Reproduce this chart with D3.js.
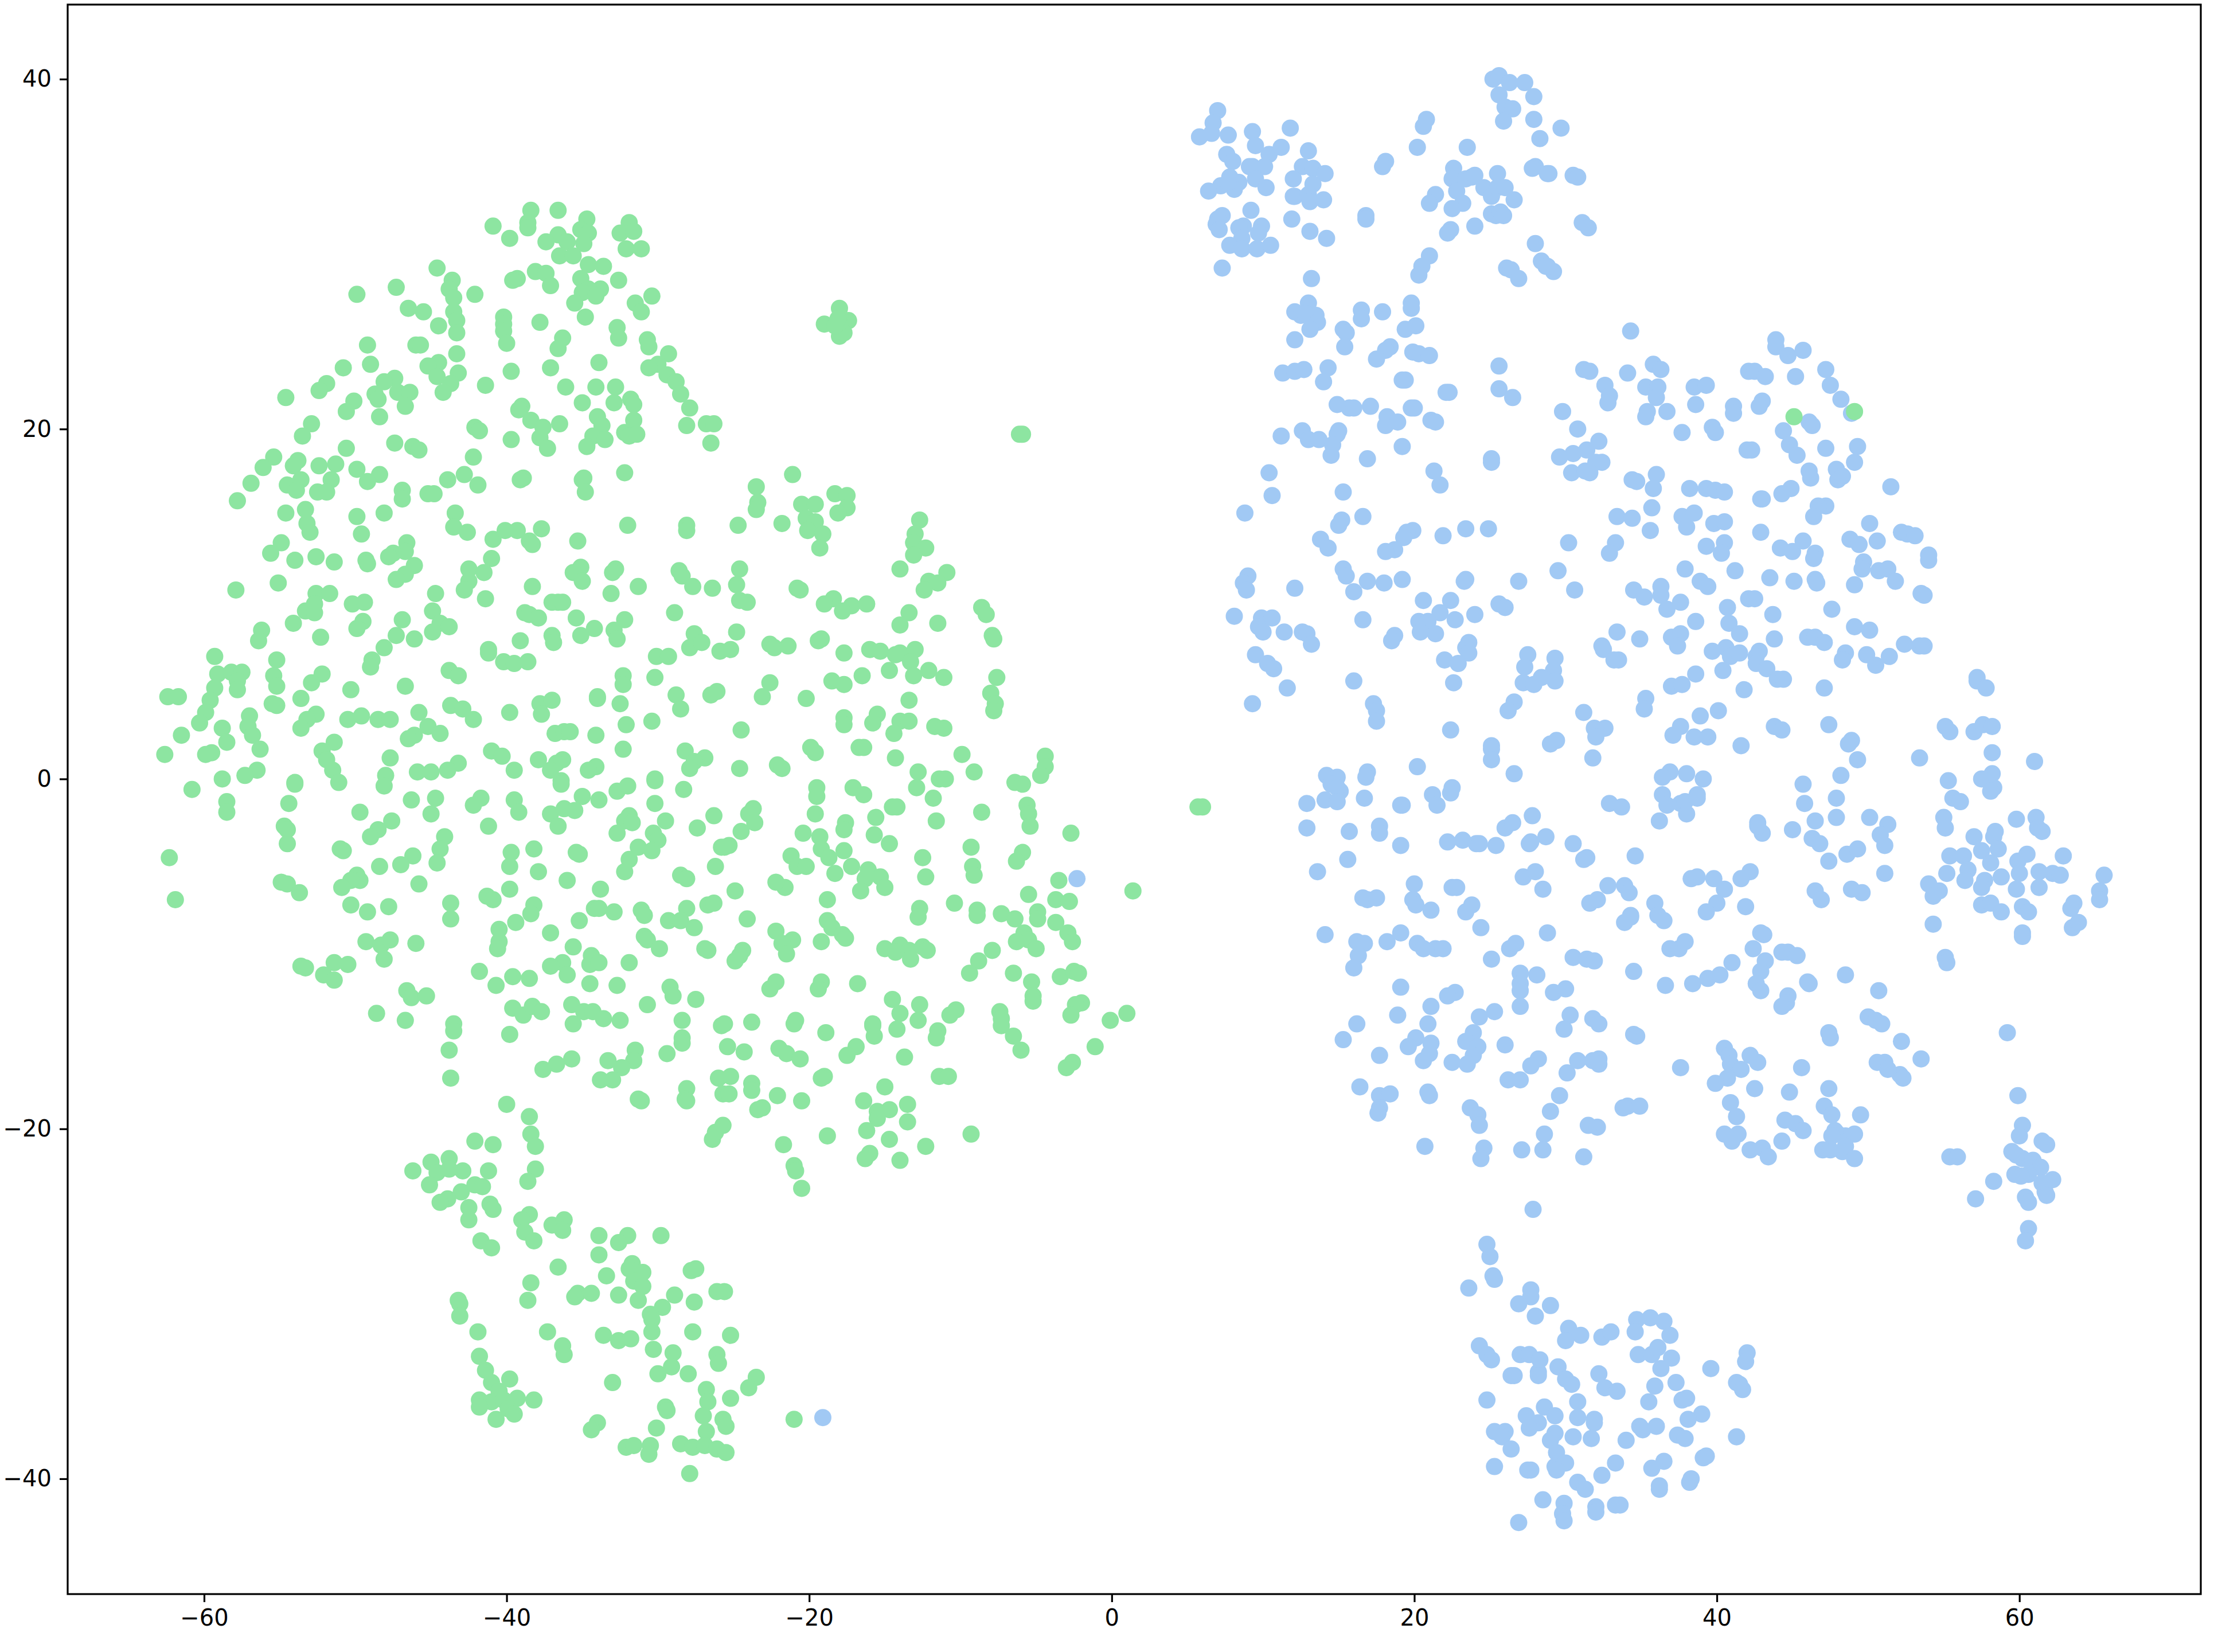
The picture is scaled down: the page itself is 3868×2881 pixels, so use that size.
<!DOCTYPE html>
<html>
<head>
<meta charset="utf-8">
<script src="https://cdn.jsdelivr.net/npm/d3@7"></script>
<style>
  html, body { margin: 0; padding: 0; background: #fff; }
  svg { display: block; }
  text { font-family: "DejaVu Sans", sans-serif; }
</style>
</head>
<body>
<svg id="chart" width="3868" height="2881"></svg>
<script>
// tick labels
const xTicks = [-60, -40, -20, 0, 20, 40, 60];
const yTicks = [-40, -20, 0, 20, 40];

// left cloud, upper part
const greenUpper = [
[-38.4,32.5],[-38.6,31.8],[-38.6,31.5],[-40.9,31.6],[-39.8,30.9],[-36.6,32.5],[-34.7,32.0],[-35.1,31.4],[-34.6,31.2],[-34.9,30.6],
[-36.6,31.1],[-37.4,30.7],[-36.0,30.7],[-36.5,29.9],[-35.6,29.9],[-31.9,31.8],[-32.5,31.2],[-31.6,31.3],[-32.1,30.3],[-31.1,30.3],
[-34.6,29.4],[-33.6,29.3],[-38.1,29.0],[-37.4,28.9],[-39.3,28.6],[-39.6,28.5],[-37.1,28.2],[-35.1,28.6],[-32.6,28.5],[-33.8,28.0],
[-34.6,28.0],[-35.0,27.8],[-34.1,27.6],[-35.5,27.2],[-34.8,26.4],[-30.4,27.6],[-31.5,27.2],[-31.1,26.7],[-44.6,29.2],[-43.6,28.5],
[-43.8,28.0],[-43.5,27.5],[-43.5,26.7],[-43.3,26.2],[-43.3,25.5],[-42.1,27.7],[-47.3,28.1],[-49.9,27.7],[-46.5,26.9],[-45.5,26.7],
[-44.5,25.9],[-40.2,26.4],[-40.2,26.0],[-40.2,25.6],[-40.0,24.9],[-37.8,26.1],[-36.3,25.2],[-36.6,24.6],[-32.7,25.8],[-32.6,25.2],
[-30.7,25.1],[-30.6,24.7],[-29.3,24.3],[-30.0,23.7],[-30.6,23.5],[-29.4,23.1],[-28.8,22.7],[-28.5,22.0],[-33.9,23.8],[-37.1,23.5],
[-36.1,22.4],[-34.1,22.4],[-32.8,22.4],[-31.8,21.7],[-31.6,21.4],[-32.9,21.5],[-35.0,21.5],[-39.7,23.3],[-41.4,22.5],[-43.3,24.3],
[-43.2,23.2],[-44.5,23.8],[-45.2,23.6],[-44.6,23.0],[-43.7,22.6],[-44.2,22.1],[-46.0,24.8],[-45.7,24.8],[-49.2,24.8],[-49.0,23.7],
[-50.8,23.5],[-47.4,22.9],[-48.1,22.7],[-47.2,22.1],[-46.4,22.1],[-46.7,21.3],[-48.7,22.0],[-48.5,21.7],[-48.4,20.7],[-50.1,21.6],
[-50.6,21.0],[-51.9,22.6],[-52.4,22.2],[-54.6,21.8],[-52.9,20.3],[-53.5,19.6],[-39.0,21.3],[-39.2,21.1],[-38.4,20.5],[-37.6,20.1],
[-36.5,20.3],[-37.8,19.5],[-37.3,18.9],[-39.7,19.4],[-42.1,20.1],[-41.8,19.9],[-31.6,20.5],[-34.0,20.7],[-33.7,20.2],[-34.3,19.6],
[-33.5,19.4],[-34.7,19.0],[-32.2,19.8],[-31.9,19.6],[-31.4,19.7],[-28.1,20.2],[-27.9,21.2],[-26.8,20.3],[-26.3,20.3],[-26.5,19.2],
[-47.4,19.2],[-46.2,19.0],[-45.8,18.8],[-50.6,18.9],[-42.2,18.4],[-55.4,18.4],[-53.8,18.2],[-54.1,17.9],[-56.1,17.8],[-52.4,17.9],
[-51.3,18.0],[-49.9,17.7],[-48.4,17.4],[-49.2,17.0],[-42.8,17.4],[-43.9,17.1],[-41.9,16.8],[-38.9,17.2],[-39.1,17.1],[-34.9,17.2],
[-35.0,17.1],[-34.8,16.4],[-32.2,17.5],[-56.9,16.9],[-53.6,17.1],[-54.5,16.8],[-53.9,16.5],[-51.6,17.1],[-52.5,16.4],[-51.9,16.4],
[-46.9,16.5],[-46.9,16.0],[-45.2,16.3],[-44.8,16.3],[-57.8,15.9],[-54.6,15.2],[-53.3,15.4],[-53.2,14.6],[-53.0,14.1],[-49.9,15.0],
[-48.1,15.2],[-49.6,14.0],[-43.4,15.2],[-43.5,14.4],[-42.6,14.1],[-40.9,13.7],[-40.1,14.2],[-39.3,14.2],[-37.7,14.3],[-38.5,13.6],
[-38.3,13.4],[-35.3,13.6],[-32.0,14.5],[-28.1,14.5],[-28.1,14.2],[-54.9,13.5],[-55.6,12.9],[-54.0,12.5],[-52.6,12.7],[-51.4,12.4],
[-49.3,12.5],[-49.2,12.3],[-46.6,13.5],[-46.7,13.0],[-47.5,12.9],[-47.8,12.7],[-46.1,12.2],[-46.7,11.7],[-47.3,11.4],[-41.0,12.6],
[-42.5,12.0],[-41.5,11.8],[-42.5,11.3],[-42.8,10.8],[-55.1,11.2],[-57.9,10.8],[-35.1,12.1],[-35.6,11.8],[-35.0,11.3],[-32.8,12.0],
[-33.0,11.8],[-38.3,11.0],[-33.1,10.6],[-31.3,11.0],[-28.6,11.9],[-28.4,11.6],[-27.7,11.0],[-26.4,10.9],[-52.6,10.6],[-51.7,10.6],
[-52.7,10.0],[-53.3,9.6],[-52.7,9.5],[-50.2,10.0],[-49.4,10.1],[-44.7,10.6],[-41.4,10.3],[-36.6,10.1],[-37.0,10.1],[-36.3,10.1],
[-38.8,9.5],[-38.5,9.4],[-37.9,9.2],[-35.4,9.2],[-28.9,9.5],[-44.9,9.6],[-46.9,9.1],[-49.5,9.0],[-49.9,8.6],[-44.4,8.9],
[-43.8,8.7],[-44.9,8.4],[-54.1,8.9],[-56.2,8.5],[-56.4,7.9],[-52.3,8.1],[-47.3,8.2],[-46.1,8.0],[-34.2,8.6],[-32.9,8.5],
[-35.1,8.2],[-32.7,8.0],[-32.2,9.1],[-37.0,8.2],[-36.9,7.8],[-39.1,7.9],[-27.6,8.3],[-27.9,7.5],[-27.1,7.8],[-25.9,7.3],
[-48.1,7.5],[-48.9,6.8],[-49.0,6.4],[-41.2,7.4],[-41.2,7.2],[-40.2,6.7],[-39.5,6.6],[-38.6,6.7],[-30.1,7.0],[-29.3,7.0],
[-59.3,7.0],[-55.2,6.8],[-59.1,6.0],[-58.2,6.1],[-57.5,6.1],[-57.8,5.6],[-57.8,5.1],[-59.3,5.2],[-55.4,5.9],[-55.2,5.3],
[-52.2,6.0],[-52.9,5.5],[-50.3,5.1],[-43.8,6.2],[-43.2,5.9],[-46.7,5.3],[-32.3,5.9],[-32.3,5.4],[-30.2,5.8],[-62.4,4.7],
[-61.7,4.7],[-59.6,4.5],[-59.9,3.8],[-60.3,3.2],[-61.5,2.5],[-62.6,1.4],[-57.0,3.6],[-57.1,3.0],[-56.8,2.5],[-58.8,2.9],
[-58.5,2.1],[-59.5,1.5],[-59.9,1.4],[-56.3,1.7],[-53.6,4.6],[-55.5,4.3],[-55.2,4.2],[-52.6,3.7],[-53.2,3.4],[-53.6,2.9],
[-50.5,3.4],[-49.6,3.6],[-48.5,3.4],[-47.7,3.4],[-45.8,3.8],[-43.7,4.2],[-42.9,4.0],[-42.2,3.4],[-45.2,3.0],[-44.4,2.6],
[-46.1,2.5],[-46.5,2.3],[-39.8,3.8],[-37.8,4.3],[-37.0,4.5],[-37.7,3.7],[-34.0,4.7],[-34.0,4.6],[-32.5,4.3],[-28.8,4.8],
[-28.5,4.0],[-26.5,4.8],[-26.1,5.0],[-30.4,3.3],[-32.1,3.1],[-34.1,2.5],[-36.8,2.6],[-36.2,2.7],[-35.8,2.7],[-51.4,2.1],
[-52.2,1.6],[-51.9,1.1],[-51.5,0.5],[-47.7,1.2],[-41.0,1.6],[-40.3,1.3],[-37.9,1.1],[-36.3,1.1],[-36.7,0.9],[-37.1,0.5],
[-39.5,0.5],[-32.3,1.7],[-28.2,1.6],[-26.9,1.2],[-27.6,1.0],[-27.9,0.6],[-34.1,0.7],[-34.6,0.5],[-43.2,0.9],[-43.9,0.5],
[-45.0,0.4],[-45.9,0.4],[-56.5,0.5],[-57.3,0.2],[-58.8,0.0],[-48.0,0.2],[-54.0,-0.2],[-30.2,0.0],[-36.4,-0.1]
];

// left cloud, lower left part
const greenLowerLeft = [
[-60.8,-0.6],[-58.5,-1.3],[-58.5,-1.9],[-54.0,-0.3],[-54.4,-1.4],[-51.1,-0.2],[-48.1,-0.4],[-46.3,-1.2],[-44.7,-1.1],[-41.7,-1.1],
[-42.2,-1.5],[-45.0,-2.0],[-49.7,-1.9],[-47.6,-2.4],[-48.5,-2.9],[-49.0,-3.3],[-39.5,-1.2],[-39.2,-1.9],[-36.4,-0.3],[-35.0,-1.0],
[-33.9,-1.2],[-37.1,-2.0],[-36.2,-1.7],[-35.5,-1.8],[-36.6,-2.7],[-32.7,-0.7],[-32.0,-0.4],[-30.2,-0.1],[-28.3,-0.6],[-30.2,-1.4],
[-29.5,-2.4],[-31.9,-2.1],[-32.2,-2.4],[-31.7,-2.5],[-32.7,-3.1],[-30.3,-3.1],[-30.0,-3.5],[-27.4,-2.8],[-26.3,-2.1],[-41.2,-2.7],
[-54.7,-2.7],[-54.5,-2.9],[-54.5,-3.7],[-62.3,-4.5],[-44.1,-3.3],[-44.4,-4.0],[-44.6,-4.8],[-51.0,-4.0],[-50.8,-4.1],[-46.2,-4.4],
[-47.0,-4.9],[-48.4,-5.0],[-39.7,-4.2],[-39.8,-5.0],[-38.2,-4.0],[-35.4,-4.2],[-35.2,-4.3],[-31.3,-3.9],[-30.4,-4.1],[-31.9,-4.6],
[-32.2,-5.3],[-37.9,-5.3],[-36.0,-5.8],[-33.8,-6.3],[-26.2,-5.0],[-25.8,-3.9],[-28.5,-5.5],[-28.1,-5.7],[-45.8,-6.0],[-54.9,-5.9],
[-54.5,-6.0],[-53.7,-6.5],[-49.9,-5.5],[-49.7,-5.8],[-50.3,-5.8],[-50.9,-6.2],[-61.9,-6.9],[-39.8,-6.3],[-41.3,-6.7],[-40.9,-6.9],
[-43.7,-7.1],[-43.7,-8.0],[-50.3,-7.2],[-49.2,-7.6],[-47.8,-7.3],[-38.2,-7.2],[-38.4,-7.7],[-39.4,-8.2],[-34.2,-7.4],[-33.9,-7.4],
[-32.9,-7.6],[-35.2,-8.1],[-37.1,-8.8],[-31.1,-7.5],[-30.9,-7.8],[-28.1,-7.4],[-29.3,-8.1],[-28.5,-8.1],[-27.6,-8.5],[-26.7,-7.2],
[-26.3,-7.1],[-40.5,-8.6],[-40.5,-9.3],[-40.6,-9.7],[-49.3,-9.3],[-48.3,-9.5],[-47.7,-9.2],[-46.0,-9.4],[-48.1,-10.3],[-35.6,-9.6],
[-30.9,-9.0],[-30.7,-9.2],[-29.9,-9.7],[-26.9,-9.7],[-26.7,-9.8],[-34.4,-10.1],[-34.5,-10.6],[-33.9,-10.5],[-36.3,-10.5],[-37.1,-10.7],
[-36.0,-11.2],[-31.9,-10.5],[-53.6,-10.7],[-53.3,-10.8],[-51.4,-10.5],[-50.5,-10.6],[-52.1,-11.2],[-51.4,-11.5],[-41.8,-11.0],[-39.6,-11.3],
[-38.5,-11.4],[-40.7,-11.8],[-34.5,-11.7],[-32.7,-11.8],[-29.2,-11.9],[-29.0,-12.4],[-27.5,-12.6],[-46.6,-12.1],[-46.3,-12.5],[-45.3,-12.4],
[-48.6,-13.4],[-46.7,-13.8],[-39.6,-13.1],[-38.9,-13.5],[-38.3,-13.0],[-37.7,-13.3],[-35.7,-12.9],[-34.9,-13.3],[-34.3,-13.3],[-33.6,-13.7],
[-32.5,-13.8],[-35.6,-14.0],[-30.7,-12.9],[-28.4,-13.8],[-28.4,-14.8],[-28.4,-15.1],[-25.8,-14.1],[-43.5,-14.0],[-43.5,-14.4],[-39.8,-14.6],
[-43.8,-15.5],[-31.5,-15.5],[-31.6,-16.1],[-29.4,-15.7],[-32.4,-16.5],[-33.3,-16.1],[-35.7,-16.0],[-36.7,-16.3],[-37.6,-16.6],[-43.7,-17.1],
[-33.8,-17.2],[-33.0,-17.2],[-26.0,-17.1],[-28.1,-17.7],[-28.2,-18.3],[-28.1,-18.4],[-31.3,-18.3],[-31.1,-18.4],[-25.7,-18.0],[-40.0,-18.6],
[-38.5,-19.3],[-38.4,-20.3],[-38.1,-21.0],[-42.1,-20.7],[-40.9,-20.9],[-43.8,-21.7],[-45.0,-21.9],[-46.2,-22.4],[-42.9,-22.4],[-41.2,-22.4],
[-38.1,-22.3],[-26.4,-20.6],[-26.2,-20.2],[-25.7,-19.8]
];

// left cloud, right part
const greenRight = [
[-24.7,14.5],[-23.5,16.7],[-23.4,15.8],[-23.5,15.4],[-21.1,17.4],[-21.8,14.6],[-18.3,16.3],[-17.5,16.2],[-17.5,15.5],[-18.1,15.2],
[-20.5,15.7],[-19.6,15.7],[-20.2,14.9],[-19.6,14.7],[-20.1,14.2],[-19.1,14.0],[-19.3,13.2],[-12.7,14.8],[-13.0,14.0],[-13.1,13.5],
[-12.3,13.2],[-13.1,12.8],[-14.0,12.0],[-10.9,11.8],[-12.1,11.3],[-11.5,11.2],[-12.4,10.8],[-24.6,12.0],[-24.8,11.1],[-24.6,10.2],
[-24.1,10.1],[-20.8,10.9],[-20.6,10.8],[-18.4,10.3],[-19.0,10.0],[-17.2,9.9],[-17.8,9.6],[-16.2,10.0],[-13.4,9.5],[-14.0,8.8],
[-11.5,8.9],[-8.6,9.8],[-8.3,9.4],[-7.9,8.2],[-7.8,8.0],[-24.8,8.4],[-25.2,7.4],[-22.6,7.7],[-22.3,7.5],[-21.4,7.6],
[-19.4,7.9],[-19.2,8.0],[-17.7,7.2],[-16.0,7.4],[-15.3,7.3],[-14.0,7.2],[-14.3,7.1],[-13.0,7.4],[-13.3,6.7],[-14.7,6.2],
[-12.1,6.2],[-13.1,5.9],[-11.1,5.8],[-16.5,5.9],[-18.5,5.6],[-17.7,5.4],[-7.6,5.8],[-8.0,4.9],[-7.7,4.3],[-7.8,3.9],
[-22.6,5.5],[-23.1,4.7],[-20.2,4.6],[-13.4,4.5],[-15.5,3.7],[-15.8,3.2],[-17.7,3.5],[-17.7,3.1],[-14.0,3.3],[-13.4,3.3],
[-14.4,2.6],[-11.7,3.0],[-11.1,2.9],[-24.5,2.8],[-19.9,1.8],[-19.6,1.5],[-16.7,1.8],[-16.4,1.8],[-14.3,1.2],[-9.9,1.4],
[-4.4,1.3],[-4.4,0.7],[-4.7,0.2],[-12.8,0.4],[-11.4,0.0],[-11.0,0.0],[-9.1,0.4],[-6.4,-0.2],[-5.9,-0.3],[-24.6,0.6],
[-22.1,0.8],[-21.8,0.6],[-19.5,-0.5],[-19.5,-1.0],[-17.1,-0.5],[-16.4,-0.9],[-12.9,-0.5],[-11.8,-1.1],[-5.6,-1.5],[-5.5,-2.0],
[-5.4,-2.7],[-8.6,-1.9],[-19.6,-2.0],[-14.5,-1.6],[-14.2,-1.6],[-15.6,-2.2],[-17.6,-2.5],[-17.7,-2.9],[-11.6,-2.4],[-15.7,-3.2],
[-14.7,-3.7],[-23.7,-1.7],[-24.0,-2.0],[-23.6,-2.5],[-24.5,-3.0],[-25.3,-3.8],[-25.6,-3.9],[-20.4,-3.1],[-19.3,-3.3],[-19.2,-4.0],
[-17.7,-4.1],[-18.7,-4.5],[-21.2,-4.4],[-20.8,-5.0],[-20.2,-5.0],[-17.2,-5.0],[-16.1,-5.2],[-18.3,-5.4],[-16.3,-5.7],[-15.3,-5.6],
[-15.0,-6.2],[-16.6,-6.4],[-12.5,-4.5],[-12.3,-5.6],[-9.3,-3.9],[-9.2,-5.0],[-9.1,-5.5],[-5.9,-4.2],[-6.3,-4.7],[-2.7,-3.1],
[1.4,-6.4],[-5.5,-6.6],[-3.5,-5.8],[-3.7,-6.9],[-2.8,-7.0],[-10.4,-7.1],[-8.9,-7.5],[-8.9,-7.8],[-7.3,-7.7],[-6.4,-8.0],
[-4.9,-7.6],[-4.9,-8.0],[-12.7,-7.4],[-12.8,-7.9],[-18.8,-6.9],[-24.9,-6.4],[-24.1,-8.0],[-22.2,-8.7],[-21.6,-6.2],[-22.2,-5.9],
[-18.8,-8.1],[-18.5,-8.5],[-17.8,-8.9],[-17.6,-9.1],[-21.1,-9.2],[-21.8,-9.4],[-21.5,-10.0],[-19.2,-9.3],[-3.7,-8.2],[-2.9,-8.8],
[-2.6,-9.3],[-5.8,-8.8],[-5.5,-9.2],[-6.3,-9.3],[-5.0,-9.7],[-15.0,-9.7],[-14.0,-9.5],[-14.3,-9.9],[-13.4,-9.8],[-13.3,-10.3],
[-12.5,-9.6],[-12.2,-9.8],[-7.9,-9.8],[-8.8,-10.4],[-9.4,-11.1],[-6.5,-11.1],[-5.3,-11.6],[-3.4,-11.3],[-2.5,-11.0],[-2.2,-11.1],
[-5.2,-12.4],[-5.2,-12.7],[-2.0,-12.8],[-2.4,-12.9],[-2.7,-13.5],[1.0,-13.4],[-0.1,-13.8],[-7.4,-13.3],[-7.3,-13.7],[-10.3,-13.2],
[-10.7,-13.5],[-12.7,-12.9],[-14.5,-12.6],[-14.0,-13.4],[-12.8,-13.8],[-15.8,-14.0],[-16.8,-11.7],[-19.2,-11.6],[-19.4,-12.0],[-22.2,-11.6],
[-22.6,-12.0],[-24.4,-9.8],[-24.6,-10.1],[-24.9,-10.4],[-20.9,-13.8],[-23.8,-13.9],[-25.6,-14.0],
[-21.0,-14.0],[-18.9,-14.5],[-15.8,-14.1],[-15.7,-14.7],[-14.2,-14.3],[-11.5,-14.4],[-11.6,-14.8],[-7.3,-14.1],[-6.5,-14.7],[-6.0,-15.5],
[-1.1,-15.3],[-2.6,-16.2],[-3.0,-16.5],[-25.4,-15.3],[-24.3,-15.6],[-22.0,-15.4],[-21.5,-15.7],[-20.6,-16.0],[-16.9,-15.3],[-17.5,-15.8],
[-13.7,-15.9],[-25.2,-17.0],[-23.8,-17.4],[-23.8,-17.8],[-25.3,-18.0],[-22.1,-18.1],[-19.0,-17.0],[-19.2,-17.1],[-15.0,-17.6],[-11.4,-17.0],
[-10.8,-17.0],[-20.5,-18.4],[-16.4,-18.4],[-13.5,-18.6],[-14.7,-18.9],[-15.5,-19.0],[-15.5,-19.4],[-13.5,-19.6],[-23.1,-18.8],[-23.4,-18.9],
[-16.2,-20.1],[-14.7,-20.6],[-18.8,-20.4],[-21.7,-20.9],[-12.3,-21.0],[-9.3,-20.3],[-16.0,-21.4],[-16.3,-21.7],[-14.0,-21.8],[-21.0,-22.1],
[-20.9,-22.4],[-20.5,-23.4]
];

// lower left clusters of the left cloud
const greenBottom = [
[-44.6,-22.5],[-43.8,-22.3],[-38.6,-23.0],[-45.1,-23.2],[-43.0,-23.6],[-43.9,-24.0],[-44.4,-24.2],[-42.1,-23.2],[-41.6,-23.3],[-41.1,-24.3],
[-40.9,-24.6],[-42.5,-24.5],[-42.5,-25.2],[-38.5,-24.9],[-39.0,-25.2],[-38.8,-25.9],[-38.2,-26.4],[-41.7,-26.4],[-41.0,-26.8],[-37.0,-25.5],
[-36.2,-25.2],[-36.3,-25.8],[-33.9,-26.1],[-32.0,-26.1],[-32.6,-26.5],[-29.8,-26.1],[-33.9,-27.2],[-36.6,-27.9],[-31.7,-27.7],[-31.9,-28.0],
[-31.0,-28.2],[-31.6,-28.7],[-31.0,-29.0],[-33.4,-28.4],[-27.8,-28.1],[-27.5,-28.0],[-38.4,-28.8],[-35.3,-29.4],[-35.5,-29.6],[-34.4,-29.4],
[-32.6,-29.5],[-31.3,-29.8],[-28.9,-29.5],[-27.6,-29.9],[-26.1,-29.3],[-25.6,-29.3],[-38.6,-29.8],[-43.2,-29.8],[-43.1,-30.0],[-43.1,-30.7],
[-29.7,-30.2],[-30.5,-30.6],[-30.4,-30.9],[-41.9,-31.6],[-37.3,-31.6],[-30.4,-31.6],[-33.6,-31.8],[-32.6,-32.1],[-31.8,-32.0],[-27.7,-31.6],
[-25.2,-31.8],[-41.8,-33.0],[-41.4,-33.8],[-36.3,-32.4],[-36.2,-32.9],[-30.3,-32.6],[-29.0,-32.8],[-29.1,-33.6],[-26.1,-32.9],[-26.0,-33.4],
[-30.0,-34.0],[-28.0,-34.0],[-39.8,-34.3],[-41.0,-34.5],[-23.5,-34.2],[-24.0,-34.8],[-26.8,-34.9],[-26.7,-35.6],[-25.2,-35.4],[-33.0,-34.5],
[-40.5,-35.0],[-41.8,-35.5],[-41.0,-35.6],[-40.2,-35.5],[-39.3,-35.4],[-38.2,-35.5],[-41.8,-35.9],[-39.9,-36.0],[-39.5,-36.3],[-40.7,-36.6],
[-29.5,-35.9],[-29.4,-36.1],[-27.0,-36.4],[-25.7,-36.6],[-25.5,-37.0],[-26.8,-37.3],[-21.0,-36.6],[-34.0,-36.8],[-34.4,-37.2],[-30.1,-37.1],
[-28.5,-38.0],[-27.7,-38.2],[-26.9,-38.1],[-26.1,-38.3],[-25.5,-38.5],[-32.1,-38.2],[-31.6,-38.1],[-30.5,-38.1],[-30.6,-38.6],[-27.9,-39.7]
];

// small separate groups and the two green points inside the blue cloud
const greenOutliers = [
[-18.0,26.9],[-19.0,26.0],[-17.4,26.2],[-18.0,25.3],[-17.7,25.5],[-18.0,26.1],[-18.3,25.9],[-18.1,26.3],
[-6.1,19.7],[-5.9,19.7],[5.7,-1.6],[6.0,-1.6],[45.1,20.7],[49.1,21.0]
];

// right cloud, top
const blueTop = [
[7.0,38.2],[6.7,37.5],[6.6,36.9],[5.8,36.7],[7.7,36.8],[9.3,37.0],[9.5,36.2],[7.6,35.7],[8.0,35.3],[10.4,35.7],
[11.2,36.1],[11.8,37.2],[9.3,35.0],[9.1,35.0],[10.1,35.0],[13.0,35.9],[12.6,35.0],[13.3,34.9],[14.1,34.6],[12.0,34.3],
[13.3,34.0],[7.8,34.4],[8.4,34.1],[9.5,34.3],[10.2,33.8],[7.2,33.9],[6.4,33.6],[8.1,33.7],[7.7,34.1],[12.0,33.3],
[12.1,33.3],[13.0,33.4],[13.1,33.0],[14.0,33.1],[9.2,32.5],[11.9,32.0],[13.1,31.3],[14.2,30.9],[7.3,32.2],[7.0,32.0],
[6.9,31.7],[7.1,31.4],[8.7,31.6],[8.4,31.5],[9.9,31.6],[9.7,31.2],[8.6,30.9],[7.8,30.5],[8.6,30.3],[9.6,30.3],
[10.5,30.5],[7.3,29.2],[13.2,28.6],[16.8,32.2],[16.8,32.0],[18.1,35.3],[17.9,35.0],[20.2,36.1],[20.8,37.7],[20.6,37.3],
[23.5,36.1],[22.6,34.9],[22.5,34.3],[23.4,34.3],[23.8,34.4],[24.0,34.5],[25.5,34.6],[21.4,33.4],[21.0,32.9],[22.8,33.6],
[23.2,32.9],[22.5,32.6],[24.6,33.8],[25.1,33.3],[25.5,33.8],[26.0,33.8],[26.6,33.1],[25.1,32.3],[25.4,32.2],[25.7,32.4],
[25.9,32.2],[24.0,31.6],[22.4,31.4],[22.2,31.2],[21.0,29.9],[20.5,29.3],[20.3,28.8],[28.0,35.0],[27.8,34.9],[28.8,34.6],
[28.0,30.6],[28.4,29.6],[28.7,29.3],[26.1,29.2],[26.4,29.1],[26.9,28.6],[25.2,40.0],[25.6,40.2],[26.3,39.8],[27.3,39.8],
[25.6,39.1],[27.9,39.0],[26.0,38.4],[26.5,38.3],[25.9,37.6],[27.9,37.7],[28.3,36.6],[29.7,37.2],[28.9,34.6],[30.5,34.5],
[30.8,34.4],[31.1,31.8],[31.5,31.5],[29.2,29.0],[28.8,29.3],
[13.0,27.2],[12.1,26.7],[12.5,26.5],[13.5,26.5],[12.8,26.6],[13.6,26.1],[13.1,25.7],[12.1,25.1],[15.3,25.7],[15.5,25.5],
[15.4,24.7],[16.5,26.8],[16.5,26.3],[17.9,26.7],[19.8,27.2],[19.8,26.9],[19.4,25.7],[20.1,25.9],[18.4,24.7],[18.1,24.5],
[17.5,24.0],[19.9,24.4],[20.3,24.3],[21.0,24.2],[25.6,23.6],[25.6,22.3],[26.5,21.8],[14.3,23.5],[14.0,22.7],[11.3,23.2],
[12.1,23.3],[12.7,23.4],[19.2,22.8],[19.4,22.8],[22.1,22.1],[22.3,22.1],[14.9,21.4],[15.7,21.2],[16.0,21.2],[17.1,21.3],
[19.8,21.2],[20.0,21.2],[18.2,20.7],[18.1,20.2],[18.9,20.4],[21.1,20.5],[21.4,20.4],[11.2,19.6],[12.6,19.9],[13.0,19.4],
[13.7,19.4],[15.0,19.9],[14.9,19.7],[14.6,19.1],[14.5,18.5],[19.2,19.0],[16.9,18.3],[25.1,18.3]
];

// right cloud, middle
const blueMiddle = [
[34.3,25.6],[31.2,23.4],[31.6,23.3],[34.1,23.2],[35.8,23.7],[36.3,23.4],[32.6,22.5],[32.9,21.9],[32.8,21.5],[35.3,22.4],
[36.1,22.4],[36.0,21.8],[38.5,22.4],[39.3,22.5],[38.6,21.4],[35.4,21.0],[35.3,20.7],[36.7,21.0],[41.1,21.3],[41.1,20.9],
[42.1,23.3],[29.8,21.0],[30.8,20.0],[32.2,19.3],[31.4,18.8],[30.5,18.6],[29.6,18.4],[32.4,18.1],[32.0,18.1],[37.7,19.8],
[39.7,20.1],[39.9,19.8],[42.0,18.8],[10.4,17.5],[10.6,16.2],[8.8,15.2],[15.3,16.4],[21.3,17.6],[21.7,16.8],[25.1,18.1],
[30.4,17.5],[31.3,17.6],[31.6,17.5],[34.4,17.1],[34.7,17.0],[36.0,17.4],[35.8,16.6],[38.2,16.6],[39.3,16.6],[39.9,16.5],
[40.5,16.4],[35.7,15.5],[33.4,15.0],[34.4,14.9],[37.7,15.0],[38.5,15.2],[38.0,14.4],[39.8,14.6],[40.5,14.7],[35.6,14.2],
[30.2,13.5],[33.3,13.5],[32.9,12.9],[39.3,13.3],[40.5,13.5],[40.3,12.9],[15.2,14.8],[15.0,14.5],[16.6,15.0],[13.8,13.7],
[14.3,13.2],[19.9,14.2],[19.5,14.1],[19.3,13.8],[21.9,13.9],[23.4,14.3],[24.9,14.3],[18.7,13.1],[18.1,13.0],[15.3,12.0],
[15.5,11.6],[16.9,11.3],[18.0,11.2],[19.2,11.4],[16.0,10.7],[9.0,11.6],[8.7,11.2],[8.9,10.8],[12.1,10.9],[23.3,11.3],
[23.4,11.4],[26.9,11.3],[29.5,11.9],[30.6,10.8],[37.9,12.0],[41.2,11.9],[38.9,11.3],[39.4,11.0],[34.5,10.8],[36.3,11.0],
[36.3,10.5],[35.2,10.4],[37.6,10.1],[36.7,9.7],[40.7,9.8],[38.6,9.0],[40.8,8.9],[42.1,10.3],[20.6,10.2],[22.4,10.2],
[25.6,10.0],[26.0,9.8],[21.7,9.5],[24.0,9.4],[22.7,9.1],[20.3,9.0],[20.9,9.0],[20.4,8.4],[21.4,8.3],[8.1,9.3],
[9.9,9.2],[10.6,9.2],[9.7,8.7],[10.0,8.4],[11.4,8.4],[12.6,8.4],[12.9,8.3],[13.2,7.7],[16.6,9.1],[18.7,8.2],
[18.5,7.9],[33.4,8.4],[34.9,8.0],[37.0,8.1],[37.6,8.3],[37.4,7.6],[41.5,8.3],[32.4,7.6],[32.5,7.4],[33.5,6.8],
[33.2,6.8],[23.6,7.8],[23.4,7.5],[23.6,7.2],[22.0,6.8],[22.9,6.6],[27.5,7.1],[29.3,6.9],[27.3,6.4],[29.2,6.2],
[28.4,5.8],[29.3,5.6],[27.2,5.5],[27.9,5.4],[9.5,7.1],[10.3,6.6],[10.7,6.3],[11.6,5.2],[9.3,4.3],[16.0,5.6],
[22.6,5.5],[39.7,7.3],[40.6,7.5],[40.9,7.0],[41.5,7.2],[38.6,6.0],[40.4,6.2],[37.0,5.3],[37.7,5.4],[41.8,5.1],
[26.6,4.4],[26.2,3.9],[35.3,4.6],[35.2,4.0],[31.2,3.8],[17.3,4.3],[17.5,3.9],[17.5,3.3],[22.4,2.8],[31.9,2.9],
[32.6,2.9],[32.0,2.4],[38.9,3.6],[40.1,3.9],[37.6,3.0],[37.1,2.5],[38.5,2.4],[39.4,2.4],[29.4,2.2],[29.0,2.0],
[25.1,1.9],[41.6,1.9]
];

// right cloud, right side
const blueRight = [
[43.9,25.1],[43.9,24.7],[44.7,24.2],[45.7,24.5],[42.5,23.3],[43.2,23.0],[45.2,23.0],[47.2,23.4],[47.5,22.5],[48.2,21.7],
[43.0,21.6],[42.8,21.3],[48.9,20.9],[46.1,20.4],[46.3,20.2],[44.4,19.9],[44.8,19.1],[45.3,18.5],[42.3,18.8],[47.2,18.9],
[49.3,19.0],[49.1,18.1],[46.1,17.6],[46.2,17.2],[47.9,17.7],[48.0,17.1],[48.3,17.3],[51.5,16.7],[44.9,16.6],[44.3,16.3],
[42.9,16.0],[43.0,16.0],[47.2,15.6],[46.7,15.6],[46.4,15.0],[50.1,14.6],[48.8,13.7],[49.4,13.4],[50.6,13.6],[52.2,14.1],
[52.6,14.0],[53.1,13.9],[54.0,12.8],[54.0,12.5],[42.9,14.1],[44.2,13.2],[45.0,13.0],[45.7,13.6],[46.5,12.9],[46.4,12.6],
[49.7,12.4],[49.6,12.0],[50.7,11.9],[51.3,12.0],[51.8,11.3],[49.1,11.1],[53.5,10.6],[53.7,10.5],[43.5,11.5],[45.1,11.3],
[46.5,11.4],[46.6,11.2],[42.5,10.3],[43.7,9.4],[47.6,9.7],[49.1,8.7],[50.1,8.5],[43.8,8.0],[46.0,8.1],[46.5,8.1],
[47.1,7.8],[52.4,7.7],[53.4,7.6],[53.7,7.6],[42.8,7.3],[42.6,7.0],[42.6,6.6],[43.3,6.3],[48.5,7.2],[48.3,6.8],
[49.9,7.1],[51.4,7.0],[50.5,6.5],[44.0,5.7],[44.4,5.7],[47.1,5.2],[57.2,5.8],[57.2,5.6],[57.8,5.2],[43.8,3.0],
[44.3,2.8],[47.4,3.1],[55.1,3.0],[55.4,2.7],[57.0,2.7],[57.6,3.1],[58.2,3.0],[48.9,2.2],[48.7,2.0],[49.3,1.1],
[53.4,1.2],[58.2,1.5],[61.0,1.0],[55.3,-0.1],[58.2,0.3],[57.5,0.0],[58.3,-0.5],[58.1,-0.7],[48.2,0.2],[45.7,-0.3],
[45.8,-1.4],[47.9,-1.1],[55.6,-1.1],[56.1,-1.3],[55.0,-2.2],[55.1,-2.8],[50.1,-2.2],[51.3,-2.6],[50.8,-3.2],[51.1,-3.8],
[59.8,-2.3],[61.1,-2.2],[61.2,-2.8],[61.5,-3.0],[57.0,-3.3],[58.4,-3.0],[58.3,-3.3],[58.6,-4.0],[57.5,-4.1],[55.4,-4.4],
[56.3,-4.4],[60.5,-4.3],[59.9,-4.7],[62.9,-4.4],[58.1,-4.8],[56.6,-5.2],[55.2,-5.4],[56.4,-5.8],[58.8,-5.6],[60.0,-5.4],
[61.3,-5.3],[62.2,-5.4],[62.7,-5.5],[65.6,-5.5],[65.3,-6.4],[65.3,-6.9],[57.7,-5.8],[57.5,-6.2],[59.8,-6.3],[61.3,-6.2],
[54.0,-6.0],[54.7,-6.4],[54.3,-6.7],[49.6,-6.5],[48.9,-6.3],[46.5,-6.4],[46.9,-6.9],[51.1,-5.4],[42.2,-5.3],[41.9,-7.3],
[57.5,-7.2],[58.1,-7.1],[58.8,-7.6],[60.2,-7.3],[60.6,-7.6],[63.6,-7.1],[63.4,-7.4],[47.4,-4.7],[48.6,-4.3],[49.3,-4.0],
[46.5,-2.4],[47.9,-2.2],[43.0,-3.1],[42.7,-2.5],[42.7,-2.7],[45.0,-2.9],[46.3,-3.4],[46.8,-3.7],[38.0,0.3],[36.9,0.4],
[36.4,0.1],[39.1,0.0],[36.4,-0.9],[36.7,-1.5],[37.6,-1.4],[37.9,-1.3],[38.7,-0.9],[38.7,-1.1],[38.0,-2.0],[36.2,-2.4],
[32.9,-1.4],[33.7,-1.6],[34.6,-4.4],[33.9,-6.1],[34.2,-6.5],[32.8,-6.1],[38.3,-5.7],[38.7,-5.6],[39.8,-5.7],[40.5,-6.3],
[41.6,-5.7],[35.9,-7.1],[40.0,-7.1],[39.3,-7.6],[34.3,-7.8],[36.1,-7.8],
[54.3,-8.3],[55.1,-10.2],[55.2,-10.5],[60.2,-8.8],[60.2,-9.0],[63.5,-8.5],[63.9,-8.2],[59.2,-14.5],[59.9,-18.1],[60.2,-19.8],
[60.0,-20.4],[61.5,-20.7],[61.8,-20.9],[60.2,-21.7],[60.9,-21.8],[59.8,-21.5],[59.5,-21.3],[61.4,-22.2],[59.7,-22.6],[60.6,-22.6],
[58.3,-23.0],[62.2,-22.9],[61.5,-23.1],[60.1,-22.7],[61.7,-23.6],[61.8,-23.8],[60.4,-23.9],[60.6,-24.2],[57.1,-24.0],[60.6,-25.7],
[60.4,-26.4],[55.4,-21.6],[55.9,-21.6],[52.2,-15.0],[53.5,-16.0],[52.1,-16.9],[51.1,-16.2],[50.6,-16.2],[51.3,-16.6],[52.3,-17.1],
[50.7,-12.1],[48.5,-11.2],[50.0,-13.6],[50.5,-13.8],[50.9,-14.0],[48.0,-20.3],[48.5,-20.4],[49.1,-20.3],[49.5,-19.2],[48.5,-21.0],
[48.3,-21.3],[49.1,-21.7],[47.8,-20.1]
];

// right cloud, lower part
const blueLower = [
[14.2,0.2],[14.9,0.1],[16.9,0.4],[16.8,0.1],[20.2,0.7],[25.1,1.7],[25.1,1.1],[26.6,0.3],[31.8,1.2],[14.5,-0.3],
[15.1,-0.7],[14.9,-0.5],[14.1,-1.2],[14.9,-1.3],[12.9,-1.4],[16.7,-1.1],[19.1,-1.5],[19.2,-1.5],[21.2,-0.9],[22.5,-0.5],
[22.4,-0.8],[21.5,-1.5],[12.9,-2.8],[15.7,-3.0],[17.7,-2.7],[17.7,-3.1],[19.1,-3.8],[22.2,-3.6],[23.2,-3.5],[24.1,-3.7],
[24.3,-3.7],[25.4,-3.8],[26.0,-2.8],[26.5,-2.5],[27.8,-2.1],[27.7,-3.6],[27.6,-3.7],[28.7,-3.3],[30.5,-3.7],[31.4,-4.5],
[31.2,-4.6],[15.6,-4.6],[13.6,-5.3],[20.0,-6.0],[19.9,-6.9],[20.1,-7.2],[21.1,-7.5],[16.6,-6.8],[16.9,-6.9],[17.5,-6.8],
[22.5,-6.2],[22.8,-6.2],[27.2,-5.6],[28.0,-5.3],[28.5,-6.3],[23.8,-7.2],[23.4,-7.6],[31.6,-7.1],[32.1,-6.9],
[14.1,-8.9],[16.2,-9.3],[16.7,-9.4],[16.3,-10.1],[16.0,-10.8],[18.2,-9.3],[19.1,-8.8],[20.2,-9.4],[20.6,-9.7],[21.4,-9.7],
[21.9,-9.7],[24.4,-8.5],[25.1,-10.3],[26.3,-9.7],[26.7,-9.4],[28.8,-8.8],[30.5,-10.2],[31.4,-10.3],[31.9,-10.4],[34.3,-7.9],
[33.9,-8.2],[36.5,-8.1],[34.5,-11.0],[36.6,-11.8],[38.4,-11.7],[39.4,-11.4],[40.2,-11.2],[41.0,-10.5],[36.9,-9.7],[37.5,-9.7],
[37.9,-9.3],[42.4,-9.7],[42.9,-8.8],[43.1,-8.9],[43.2,-10.4],[42.9,-11.0],[44.3,-9.9],[44.7,-9.9],[45.3,-10.1],[42.6,-11.7],
[42.9,-12.1],[46.0,-11.6],[46.1,-11.7],[44.7,-12.4],[44.6,-12.8],[44.3,-13.0],[47.4,-14.5],[47.5,-14.8],[27.0,-11.1],[28.1,-11.2],
[27.0,-11.7],[27.0,-12.1],[27.0,-13.0],[29.2,-12.2],[30.0,-12.0],[19.1,-11.9],[22.7,-12.2],[22.2,-12.4],[21.1,-13.0],[18.9,-13.5],
[20.9,-14.0],[16.2,-14.0],[15.3,-14.9],[24.3,-13.6],[25.3,-13.3],[30.3,-13.5],[31.8,-13.7],[32.2,-14.0],[29.9,-14.3],[34.5,-14.6],
[34.7,-14.7],[23.9,-14.5],[23.4,-15.0],[20.1,-14.8],[19.6,-15.3],[21.1,-15.1],[21.0,-15.7],[20.6,-16.1],[17.7,-15.8],[24.2,-15.3],
[23.9,-15.8],[23.5,-16.3],[22.5,-16.2],[26.0,-15.2],[28.2,-16.0],[27.7,-16.4],[30.8,-16.1],[30.1,-16.8],[32.2,-16.0],[31.8,-16.1],
[32.2,-16.3],[37.6,-16.5],[40.5,-15.4],[40.8,-15.8],[40.9,-16.3],[41.6,-16.6],[42.2,-15.8],[42.7,-16.2],[45.6,-16.5],[40.7,-17.1],
[39.9,-17.4],[42.5,-17.7],[44.8,-17.9],[47.4,-17.7],[26.2,-17.2],[27.0,-17.2],[16.4,-17.6],[29.6,-18.1],[29.0,-19.0],[40.9,-18.5],
[41.3,-19.3],[47.1,-18.7],[47.6,-19.2],[17.7,-18.1],[18.4,-18.0],[20.9,-17.9],[21.0,-18.1],[17.7,-18.8],[17.6,-19.1],[23.7,-18.8],
[24.2,-19.2],[24.3,-19.8],[34.1,-18.7],[33.8,-18.8],[34.9,-18.7],[31.5,-19.8],[32.1,-19.9],[44.5,-19.5],[45.2,-19.7],[45.7,-20.1],
[40.5,-20.3],[41.4,-20.3],[41.0,-20.7],[28.6,-20.3],[28.5,-21.2],[20.7,-21.0],[24.6,-21.1],[24.4,-21.7],[27.1,-21.2],[31.2,-21.6],
[44.3,-20.7],[42.2,-21.2],[43.0,-21.1],[43.4,-21.6],[47.0,-21.2],[47.5,-21.2],[47.6,-20.4]
];

// bottom cluster of the right cloud
const blueBottom = [
[27.85,-24.6],[24.8,-26.6],[25.0,-27.3],[25.2,-28.4],[25.3,-28.6],[23.6,-29.1],[27.7,-29.2],[27.7,-29.6],[26.9,-30.0],[29.0,-30.1],
[28.0,-30.7],[30.2,-31.4],[31.0,-31.8],[30.0,-32.1],[32.4,-31.9],[33.0,-31.6],[34.7,-30.9],[35.6,-30.8],[36.5,-31.0],[34.6,-31.6],
[36.9,-31.8],[24.3,-32.4],[24.8,-32.9],[25.1,-33.2],[27.0,-32.9],[27.6,-32.9],[28.3,-33.2],[26.4,-34.1],[26.6,-34.1],[28.2,-33.9],
[28.2,-34.1],[29.5,-33.6],[30.0,-34.3],[30.4,-34.6],[32.2,-34.0],[32.6,-34.8],[33.4,-35.0],[34.8,-32.9],[35.7,-32.9],[36.1,-32.5],
[37.0,-33.1],[36.3,-33.7],[39.6,-33.7],[42.0,-32.8],[41.9,-33.3],[37.3,-34.5],[35.9,-34.7],[41.3,-34.5],[41.5,-34.6],[41.7,-34.9],
[24.8,-35.5],[30.8,-35.6],[35.5,-35.6],[37.7,-35.5],[38.0,-35.4],[28.6,-35.9],[29.3,-36.4],[27.4,-36.4],[28.2,-36.8],[27.6,-37.1],
[30.8,-36.5],[31.9,-36.6],[31.9,-36.8],[34.9,-37.0],[36.0,-37.0],[35.1,-37.2],[39.0,-36.3],[38.1,-36.6],[25.3,-37.3],[26.0,-37.3],
[25.8,-37.6],[26.4,-38.3],[29.3,-37.4],[29.0,-37.8],[30.5,-37.6],[31.7,-37.7],[34.0,-37.8],[37.4,-37.5],[37.9,-37.7],[41.3,-37.6],
[29.4,-38.5],[30.0,-39.1],[29.3,-39.3],[29.4,-39.5],[25.3,-39.3],[27.5,-39.5],[27.7,-39.5],[33.3,-39.1],[36.5,-39.0],[35.7,-39.4],
[39.1,-38.8],[39.3,-38.7],[32.4,-39.8],[30.8,-40.2],[31.3,-40.6],[38.3,-40.0],[38.2,-40.2],[36.2,-40.4],[36.2,-40.6],[28.5,-41.2],
[29.9,-41.4],[29.8,-42.0],[29.9,-42.4],[32.0,-41.6],[32.0,-41.9],[33.3,-41.5],[33.6,-41.5],[26.9,-42.5]
];

// the two blue points inside the green cloud
const blueOutliers = [[-2.3,-5.7],[-19.1,-36.5]];

const greenColor = "#8de5a1";
const blueColor = "#a1c9f4";

const plotLeft = 118, plotRight = 3838, plotTop = 8, plotBottom = 2780;

const x = d3.scaleLinear().domain([-69.02, 71.99]).range([plotLeft, plotRight]);
const y = d3.scaleLinear().domain([-46.59, 44.26]).range([plotBottom, plotTop]);

const svg = d3.select("#chart");

function drawPoints(points, color) {
    svg.append("g")
        .selectAll("circle")
        .data(points)
        .enter().append("circle")
        .attr("cx", d => x(d[0]))
        .attr("cy", d => y(d[1]))
        .attr("r", 15)
        .attr("fill", color);
}

drawPoints([...blueTop, ...blueMiddle, ...blueRight, ...blueLower, ...blueBottom, ...blueOutliers], blueColor);
drawPoints([...greenUpper, ...greenLowerLeft, ...greenRight, ...greenBottom, ...greenOutliers], greenColor);

// matplotlib style tick labels use a real minus sign
const tickText = d => d < 0 ? "\u2212" + Math.abs(d) : String(d);

const xAxis = d3.axisBottom(x).tickValues(xTicks).tickFormat(tickText).tickSize(14).tickSizeOuter(0).tickPadding(13);
const yAxis = d3.axisLeft(y).tickValues(yTicks).tickFormat(tickText).tickSize(14).tickSizeOuter(0).tickPadding(14);

const gx = svg.append("g").attr("transform", `translate(0,${plotBottom})`).call(xAxis);
const gy = svg.append("g").attr("transform", `translate(${plotLeft},0)`).call(yAxis);

[gx, gy].forEach(g => {
    g.select(".domain").remove();
    g.selectAll("line").attr("stroke", "#000").attr("stroke-width", 3.2);
    g.selectAll("text").attr("fill", "#000").style("font-size", "40px").style("font-family", "'DejaVu Sans'");
});

// frame
svg.append("rect")
    .attr("x", plotLeft)
    .attr("y", plotTop)
    .attr("width", plotRight - plotLeft)
    .attr("height", plotBottom - plotTop)
    .attr("fill", "none")
    .attr("stroke", "#000")
    .attr("stroke-width", 3.2);
</script>
</body>
</html>
